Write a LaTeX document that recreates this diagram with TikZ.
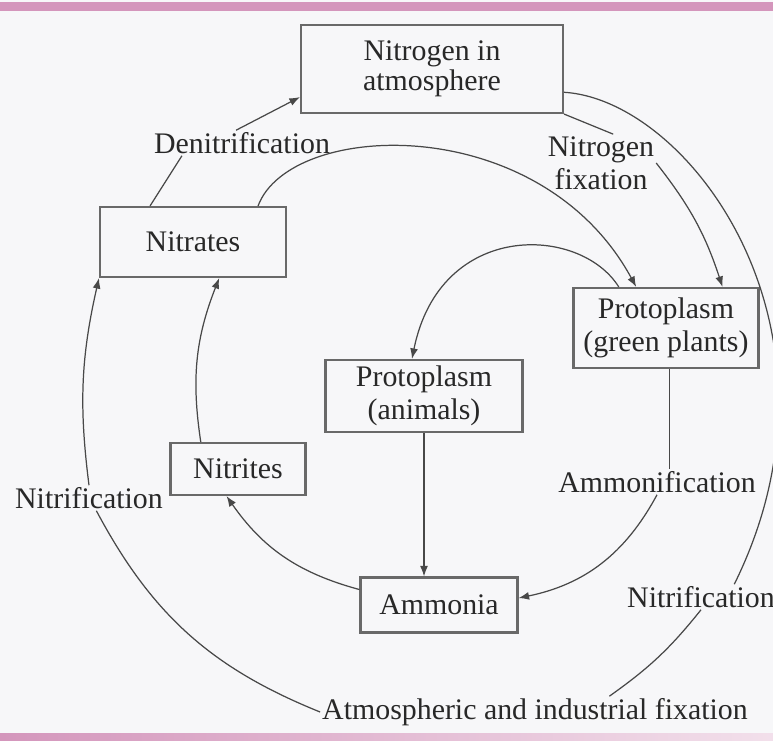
\documentclass[tikz,border=0pt]{standalone}
\usepackage{fontspec}
\setmainfont{Liberation Serif}
\usetikzlibrary{arrows.meta}
\definecolor{paper}{RGB}{247,247,249}
\definecolor{ink}{RGB}{40,40,40}
\definecolor{rim}{RGB}{105,105,105}
\definecolor{band}{RGB}{212,150,188}
\begin{document}
\begin{tikzpicture}[x=0.02cm, y=-0.02cm,
  box/.style={draw=rim, line width=1.2pt, inner sep=0pt, align=center, text=ink},
  lbl/.style={inner sep=1pt, align=center, text=ink},
  link/.style={draw=ink!85, line width=0.7pt},
  arr/.style={link, -{Latex[length=6pt,width=4.5pt]}},
  font=\fontsize{17}{19}\selectfont]
\useasboundingbox (0,0) rectangle (773,740);
\clip (0,0) rectangle (773,740);
\fill[paper] (0,0) rectangle (773,740);
\shade[left color=band, middle color=band!45, right color=band] (0,3) rectangle (773,11);
\shade[left color=band, right color=band!30] (0,733) rectangle (773,740);
% boxes
\node[box, minimum width=52.4mm, minimum height=17.6mm, font=\fontsize{17}{17}\selectfont] (atm) at (432,69) {Nitrogen in\\atmosphere};
\node[box, minimum width=37.2mm, minimum height=14mm] (nitrates) at (193,242) {Nitrates};
\node[box, minimum width=37mm, minimum height=16mm] (plants) at (666,328) {Protoplasm\\(green plants)};
\node[box, minimum width=39.4mm, minimum height=14.4mm] (animals) at (424,396) {Protoplasm\\(animals)};
\node[box, minimum width=27mm, minimum height=10.4mm] (nitrites) at (238,469) {Nitrites};
\node[box, minimum width=31.4mm, minimum height=11mm] (ammonia) at (439,605) {Ammonia};
% process labels
\node[lbl] (denit) at (242,143) {Denitrification};
\node[lbl] (nfix) at (601,163) {Nitrogen\\fixation};
\node[lbl] (nitrifL) at (89,498) {Nitrification};
\node[lbl] (ammonif) at (657,482) {Ammonification};
\node[lbl] (nitrifR) at (701,597) {Nitrification};
\node[lbl] (aif) at (535,712) {Atmospheric and industrial fixation};
% denitrification
\draw[link] (nitrates.140) -- (denit.192);
\draw[arr] (denit.115) -- (atm.192);
% nitrogen fixation
\draw[link] (atm.south east) -- (nfix.67);
\draw[arr] (nfix.east) to[bend left=10] (plants.36);
% outer loop
\draw[link] (atm.-10) .. controls (690,100) and (860,330) .. (nitrifR.21);
\draw[link] (nitrifR.south) to[bend left=8] (aif.12);
\draw[link] (aif.west) to[bend left=20] (nitrifL.-60);
\draw[arr] (nitrifL.north) to[bend left=10] (nitrates.south west);
% inner arcs
\draw[arr] (nitrates.29) .. controls (290,120) and (540,110) .. (plants.126);
\draw[arr] (plants.139) .. controls (580,225) and (440,220) .. (animals.108);
\draw[arr] (animals.south) -- (animals.south |- ammonia.north);
% ammonification
\draw[link] (plants.-85) -- (plants.-85 |- ammonif.north);
\draw[arr] (ammonif.south) to[bend left=25] (ammonia.5);
% nitrites
\draw[arr] (ammonia.169) to[bend left=20] (nitrites.247);
\draw[arr] (nitrites.144) to[bend left=15] (nitrates.-54);
\end{tikzpicture}
\end{document}
